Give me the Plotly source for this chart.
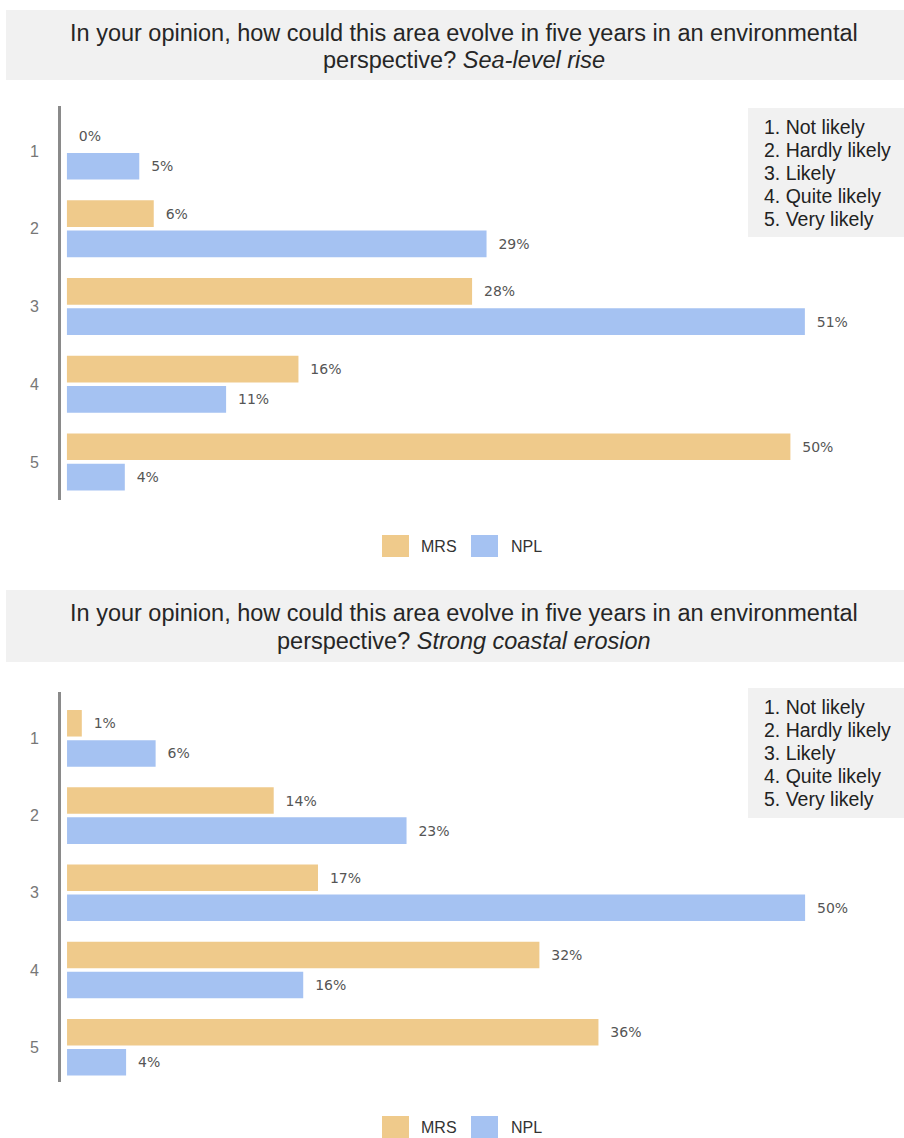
import plotly.graph_objects as go

W, H = 904, 1138

categories = ["1", "2", "3", "4", "5"]
series_names = ["MRS", "NPL"]
sea_mrs = [0, 6, 28, 16, 50]
sea_npl = [5, 29, 51, 11, 4]
erosion_mrs = [1, 14, 17, 32, 36]
erosion_npl = [6, 23, 50, 16, 4]
scale_labels = ["1. Not likely", "2. Hardly likely", "3. Likely", "4. Quite likely", "5. Very likely"]
question_lines = ["In your opinion, how could this area evolve in five years in an environmental",
                  "perspective? "]
topics = ["Sea-level rise", "Strong coastal erosion"]

colors = {"MRS": "#EFCA8B", "NPL": "#A5C2F2"}
sans = "Liberation Sans, Arial"


def px_x(p):
    return p / W


def px_y(p):
    return 1 - p / H


fig = go.Figure()

panels = [
    dict(mrs=sea_mrs, npl=sea_npl, xa="x", ya="y", top=106, bottom=500, yrange=[4.49, -0.58],
         xrange=[-0.41, 57.85], band=(10, 80), lines=(33, 60), box=(108, 237), leg=546),
    dict(mrs=erosion_mrs, npl=erosion_npl, xa="x2", ya="y2", top=692, bottom=1082, yrange=[4.45, -0.6],
         xrange=[-0.41, 56.7], band=(590, 662), lines=(613, 641), box=(688, 818), leg=1127),
]

for i, p in enumerate(panels):
    for name, vals in zip(series_names, [p["mrs"], p["npl"]]):
        fig.add_trace(go.Bar(
            y=categories, x=vals, name=name, orientation="h",
            marker=dict(color=colors[name], line=dict(width=0)),
            text=vals, texttemplate="\u00a0\u00a0%{x}%", textposition="outside",
            textfont=dict(family="DejaVu Sans", size=14, color="#555555"),
            constraintext="none", cliponaxis=False,
            xaxis=p["xa"], yaxis=p["ya"], showlegend=False, hoverinfo="skip",
        ))

    sfx = "" if i == 0 else str(i + 1)
    fig.update_layout(**{
        "xaxis" + sfx: dict(domain=[px_x(61), 1], range=p["xrange"], visible=False,
                            anchor=p["ya"]),
        "yaxis" + sfx: dict(domain=[px_y(p["bottom"]), px_y(p["top"])], range=p["yrange"],
                            type="category", anchor=p["xa"], showgrid=False, zeroline=False,
                            showline=True, linecolor="#8a8a8a", linewidth=3,
                            ticks="", ticklabelstandoff=16,
                            tickfont=dict(family=sans, size=16, color="#777777")),
    })

    # title band
    b0, b1 = p["band"]
    fig.add_shape(type="rect", xref="paper", yref="paper", x0=px_x(6), x1=1,
                  y0=px_y(b1), y1=px_y(b0), fillcolor="#f1f1f1", line=dict(width=0), layer="below")
    texts = [question_lines[0], question_lines[1] + "<i>" + topics[i] + "</i>"]
    for t, ly in zip(texts, p["lines"]):
        fig.add_annotation(xref="paper", yref="paper", x=px_x(464), y=px_y(ly),
                           text=t, showarrow=False, xanchor="center", yanchor="middle",
                           font=dict(family=sans, size=23.5, color="#262626"))

    # scale key box
    k0, k1 = p["box"]
    fig.add_shape(type="rect", xref="paper", yref="paper", x0=px_x(748), x1=1,
                  y0=px_y(k1), y1=px_y(k0), fillcolor="#f1f1f1", line=dict(width=0), layer="below")
    for j, lab in enumerate(scale_labels):
        fig.add_annotation(xref="paper", yref="paper", x=px_x(762), y=px_y(k0 + 19 + 23 * j),
                           text=lab, showarrow=False, xanchor="left", yanchor="middle",
                           font=dict(family=sans, size=19.5, color="#222222"))

    # series legend
    ly = p["leg"]
    for name, sx, tx in [("MRS", 382, 419), ("NPL", 471, 509)]:
        fig.add_shape(type="rect", xref="paper", yref="paper", x0=px_x(sx), x1=px_x(sx + 27),
                      y0=px_y(ly + 11), y1=px_y(ly - 11), fillcolor=colors[name], line=dict(width=0))
        fig.add_annotation(xref="paper", yref="paper", x=px_x(tx), y=px_y(ly), text=name,
                           showarrow=False, xanchor="left", yanchor="middle",
                           font=dict(family="Liberation Sans Narrow, Liberation Sans, Arial", size=16,
                                     color="#333333"))

fig.update_layout(
    width=W, height=H,
    margin=dict(l=0, r=0, t=0, b=0),
    barmode="group", bargap=0.22, bargroupgap=0.12,
    plot_bgcolor="white", paper_bgcolor="white",
    showlegend=False,
)

fig.write_html("out.html", config={"displayModeBar": False},
               post_script="document.body.style.margin='0';")
